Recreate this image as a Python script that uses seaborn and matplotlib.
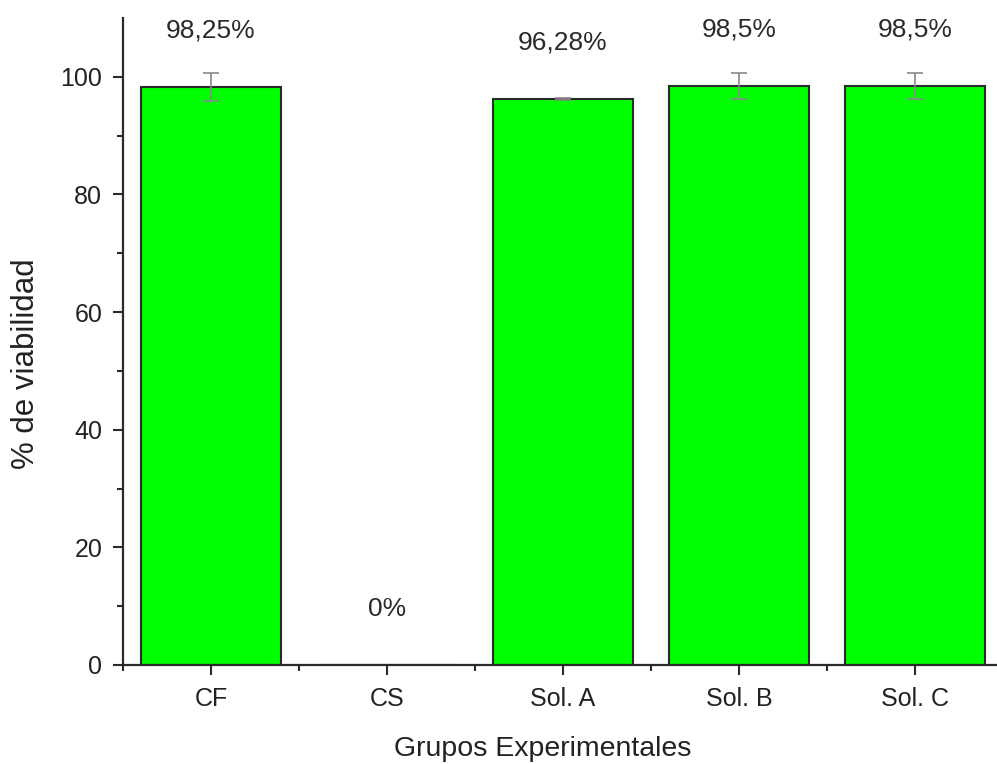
import matplotlib
matplotlib.use("Agg")
import matplotlib.pyplot as plt
from matplotlib.ticker import FixedLocator
import numpy as np
import seaborn as sns
import pandas as pd

# Viability per experimental group
groups = ["CF", "CS", "Sol. A", "Sol. B", "Sol. C"]
viability = [98.25, 0.0, 96.28, 98.5, 98.5]
errors = [2.4, np.nan, 0.15, 2.2, 2.2]
labels = ["98,25%", "0%", "96,28%", "98,5%", "98,5%"]

sns.set_style("white")
plt.rcParams["font.family"] = ["Liberation Sans", "DejaVu Sans"]
plt.rcParams["text.color"] = "#222222"

df = pd.DataFrame({"grupo": groups, "viabilidad": viability})

fig = plt.figure(figsize=(9.97, 7.64), dpi=100)
ax = fig.add_axes([123 / 997, 99 / 764, 880 / 997, 647 / 764])

sns.barplot(data=df, x="grupo", y="viabilidad", order=groups, color="#00ff00",
            saturation=1, width=0.8, edgecolor="#2a2a2a", linewidth=1.5,
            errorbar=None, ax=ax)

# error bars only where a deviation exists
xs = np.arange(len(groups))
err = np.array(errors, dtype=float)
mask = ~np.isnan(err)
ax.errorbar(xs[mask], np.array(viability)[mask], yerr=err[mask], fmt="none",
            ecolor="#8a8a8a", elinewidth=1.2, capsize=6, capthick=1.2, zorder=3)

for i, (v, t) in enumerate(zip(viability, labels)):
    ax.text(i, v + 9.6, t, ha="center", va="center", fontsize=19, color="#2a2a2a")

ax.set_xlim(-0.5, 4.5)
ax.set_ylim(0, 110)
ax.yaxis.set_major_locator(FixedLocator([0, 20, 40, 60, 80, 100]))
ax.yaxis.set_minor_locator(FixedLocator([10, 30, 50, 70, 90]))
ax.xaxis.set_minor_locator(FixedLocator([-0.5, 0.5, 1.5, 2.5, 3.5, 4.5]))

for s in ["top", "right"]:
    ax.spines[s].set_visible(False)
for s in ["left", "bottom"]:
    ax.spines[s].set_linewidth(1.6)
    ax.spines[s].set_color("#2a2a2a")

ax.tick_params(axis="both", which="major", direction="out", length=7, width=1.5,
               color="#2a2a2a", labelsize=18, labelcolor="#222222", left=True, bottom=True)
ax.tick_params(axis="both", which="minor", direction="out", length=4, width=1.5,
               color="#2a2a2a", left=True, bottom=True)
ax.tick_params(axis="x", pad=9)
ax.tick_params(axis="y", pad=8)

ax.set_xlabel("Grupos Experimentales", fontsize=20.5, labelpad=18, color="#222222", x=0.477)
ax.set_ylabel("% de viabilidad", fontsize=22.5, labelpad=14, color="#222222", y=0.465)

fig.savefig("out.png", dpi=100)
